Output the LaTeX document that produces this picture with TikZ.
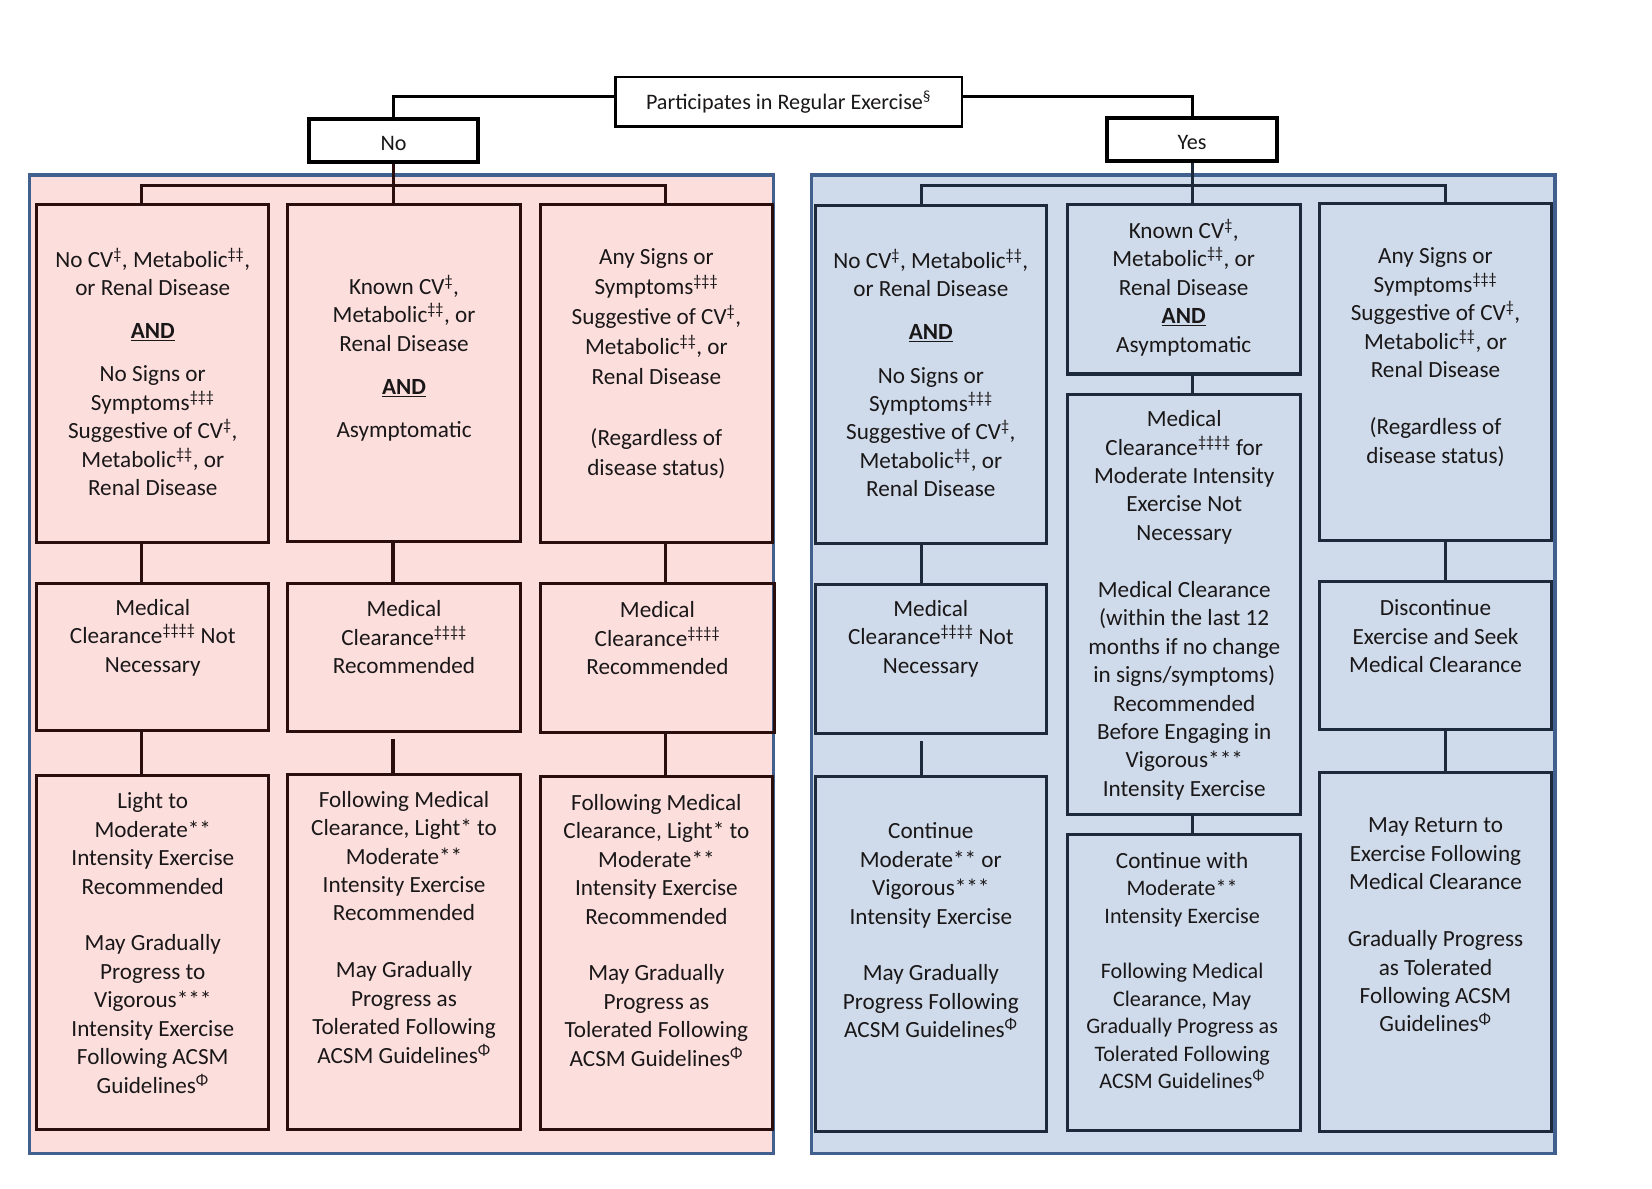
\documentclass[tikz,border=0pt]{standalone}
\usepackage{fontspec}
\setmainfont{Carlito}
\newcommand\sps[1]{\textsuperscript{#1}}
\newcommand\andu{\textbf{\underline{AND}}}
\definecolor{pinkbg}{HTML}{FCDEDD}
\definecolor{bluebg}{HTML}{CFDBEA}
\definecolor{panelbd}{HTML}{42608E}
\definecolor{boxmaroon}{HTML}{2A0E0E}
\definecolor{boxnavy}{HTML}{1C2A3B}
\definecolor{txtcol}{HTML}{1A1718}
\begin{document}
\begin{tikzpicture}[x=1pt,y=-1pt,
  lbox/.style={draw=boxmaroon, line width=2.9pt, rectangle, inner sep=0pt},
  rbox/.style={draw=boxnavy, line width=2.9pt, rectangle, inner sep=0pt},
  topbox/.style={draw=black, line width=2.4pt, rectangle, inner sep=0pt, fill=white, text=txtcol, font=\fontsize{21}{26}\selectfont},
  ynbox/.style={draw=black, line width=3.6pt, rectangle, inner sep=0pt, fill=white, text=txtcol, font=\fontsize{21}{26}\selectfont, text height=23pt, text depth=5pt},
  txt/.style={align=center, inner sep=0pt, text=txtcol, font=\fontsize{22}{27}\selectfont},
  lcon/.style={draw=boxmaroon, line width=2.9pt},
  rcon/.style={draw=boxnavy, line width=2.9pt},
  tcon/.style={draw=black, line width=2.9pt},
  panel/.style={draw=panelbd, line width=3.2pt}
]
\useasboundingbox (0,0) rectangle (1568,1128);
\fill[white] (0,0) rectangle (1568,1128);

% panels
\draw[panel, fill=pinkbg] (28,166) rectangle (734,1095);
\draw[panel, fill=bluebg] (770,166) rectangle (1476,1095);

% top nodes
\node[topbox, minimum width=329pt, minimum height=47pt] (top) at (748.5,96.5) {Participates in Regular Exercise\sps{§}};
\node[ynbox, minimum width=161pt, minimum height=41pt] (no) at (373.5,133.5) {No};
\node[ynbox, minimum width=161pt, minimum height=41pt] (yes) at (1131.5,132.5) {Yes};

% connector x positions
\coordinate (lx1) at (134,0);
\coordinate (lx2) at (373,0);
\coordinate (lx3) at (632,0);
\coordinate (rx1) at (875,0);
\coordinate (rx2) at (1132,0);
\coordinate (rx3) at (1372,0);
\coordinate (bus) at (0,176);

% left boxes
\node[lbox, minimum width=220pt, minimum height=321pt] (l11) at (145,354.5) {};
\node[lbox, minimum width=221pt, minimum height=320pt] (l12) at (383.5,354) {};
\node[lbox, minimum width=220pt, minimum height=321pt] (l13) at (623,354.5) {};
\node[lbox, minimum width=220pt, minimum height=140pt] (l21) at (145,623.5) {};
\node[lbox, minimum width=221pt, minimum height=140pt] (l22) at (383.5,624) {};
\node[lbox, minimum width=222pt, minimum height=141pt] (l23) at (624,624.5) {};
\node[lbox, minimum width=220pt, minimum height=336pt] (l31) at (145,904) {};
\node[lbox, minimum width=221pt, minimum height=337pt] (l32) at (383.5,903.5) {};
\node[lbox, minimum width=220pt, minimum height=335pt] (l33) at (623,904.5) {};

% right boxes
\node[rbox, minimum width=219pt, minimum height=321pt] (r11) at (883.5,355.5) {};
\node[rbox, minimum width=221pt, minimum height=161pt] (r12) at (1123.5,274.5) {};
\node[rbox, minimum width=221pt, minimum height=320pt] (r13) at (1362.5,353) {};
\node[rbox, minimum width=219pt, minimum height=141pt] (r21) at (883.5,625.5) {};
\node[rbox, minimum width=221pt, minimum height=399pt] (r22) at (1123.5,573.5) {};
\node[rbox, minimum width=221pt, minimum height=140pt] (r23) at (1362.5,622) {};
\node[rbox, minimum width=219pt, minimum height=337pt] (r31) at (883.5,905.5) {};
\node[rbox, minimum width=221pt, minimum height=281pt] (r32) at (1123.5,932.5) {};
\node[rbox, minimum width=221pt, minimum height=341pt] (r33) at (1362.5,903.5) {};

% top connectors
\draw[tcon] ([yshift=4.5pt]top.west) -| (no.north);
\draw[tcon] ([yshift=4.5pt]top.east) -| (yes.north);

% left connectors
\draw[lcon] (no.south) -- (no.south |- l12.north);
\draw[lcon] (l11.north -| lx1) -- (lx1 |- bus) -- (lx3 |- bus) -- (l13.north -| lx3);
\draw[lcon] (l11.south -| lx1) -- (l21.north -| lx1);
\draw[lcon] (l12.south -| lx2) -- (l22.north -| lx2);
\draw[lcon] (l13.south -| lx3) -- (l23.north -| lx3);
\draw[lcon] (l21.south -| lx1) -- (l31.north -| lx1);
\draw[lcon] ([yshift=-6pt]l22.south -| lx2) -- (l32.north -| lx2);
\draw[lcon] (l23.south -| lx3) -- (l33.north -| lx3);

% right connectors
\draw[rcon] (yes.south) -- (yes.south |- r12.north);
\draw[rcon] (r11.north -| rx1) -- (rx1 |- bus) -- (rx3 |- bus) -- (r13.north -| rx3);
\draw[rcon] (r11.south -| rx1) -- (r21.north -| rx1);
\draw[rcon] (r12.south -| rx2) -- (r22.north -| rx2);
\draw[rcon] (r13.south -| rx3) -- (r23.north -| rx3);
\draw[rcon] ([yshift=-6pt]r21.south -| rx1) -- (r31.north -| rx1);
\draw[rcon] (r22.south -| rx2) -- (r32.north -| rx2);
\draw[rcon] (r23.south -| rx3) -- (r33.north -| rx3);

% left texts
\node[txt] (tl11) at (145,353) {No CV\sps{‡}, Metabolic\sps{‡‡},\\or Renal Disease\\[14pt]\andu\\[14pt]No Signs or\\Symptoms\sps{‡‡‡}\\Suggestive of CV\sps{‡},\\Metabolic\sps{‡‡}, or\\Renal Disease};
\node[txt] (tl12) at (383.5,340) {Known CV\sps{‡},\\Metabolic\sps{‡‡}, or\\Renal Disease\\[14pt]\andu\\[14pt]Asymptomatic};
\node[txt, font=\fontsize{22}{28.5}\selectfont] (tl13) at (623,345) {Any Signs or\\Symptoms\sps{‡‡‡}\\Suggestive of CV\sps{‡},\\Metabolic\sps{‡‡}, or\\Renal Disease\\[29pt](Regardless of\\disease status)};
\node[txt] (tl21) at (145,605) {Medical\\Clearance\sps{‡‡‡‡} Not\\Necessary};
\node[txt] (tl22) at (383.5,605) {Medical\\Clearance\sps{‡‡‡‡}\\Recommended};
\node[txt] (tl23) at (624,606) {Medical\\Clearance\sps{‡‡‡‡}\\Recommended};
\node[txt] (tl31) at (145,895) {Light to\\Moderate**\\Intensity Exercise\\Recommended\\[27pt]May Gradually\\Progress to\\Vigorous***\\Intensity Exercise\\Following ACSM\\Guidelines\sps{Φ}};
\node[txt] (tl32) at (383.5,880) {Following Medical\\Clearance, Light* to\\Moderate**\\Intensity Exercise\\Recommended\\[27pt]May Gradually\\Progress as\\Tolerated Following\\ACSM Guidelines\sps{Φ}};
\node[txt] (tl33) at (623,883) {Following Medical\\Clearance, Light* to\\Moderate**\\Intensity Exercise\\Recommended\\[27pt]May Gradually\\Progress as\\Tolerated Following\\ACSM Guidelines\sps{Φ}};

% right texts
\node[txt] (tr11) at (883.5,354) {No CV\sps{‡}, Metabolic\sps{‡‡},\\or Renal Disease\\[14pt]\andu\\[14pt]No Signs or\\Symptoms\sps{‡‡‡}\\Suggestive of CV\sps{‡},\\Metabolic\sps{‡‡}, or\\Renal Disease};
\node[txt] (tr12) at (1123.5,273) {Known CV\sps{‡},\\Metabolic\sps{‡‡}, or\\Renal Disease\\\andu\\Asymptomatic};
\node[txt] (tr13) at (1362.5,339) {Any Signs or\\Symptoms\sps{‡‡‡}\\Suggestive of CV\sps{‡},\\Metabolic\sps{‡‡}, or\\Renal Disease\\[27pt](Regardless of\\disease status)};
\node[txt] (tr21) at (883.5,606) {Medical\\Clearance\sps{‡‡‡‡} Not\\Necessary};
\node[txt] (tr22) at (1124,574.5) {Medical\\Clearance\sps{‡‡‡‡} for\\Moderate Intensity\\Exercise Not\\Necessary\\[27pt]Medical Clearance\\(within the last 12\\months if no change\\in signs/symptoms)\\Recommended\\Before Engaging in\\Vigorous***\\Intensity Exercise};
\node[txt] (tr23) at (1362.5,604) {Discontinue\\Exercise and Seek\\Medical Clearance};
\node[txt] (tr31) at (883.5,883) {Continue\\Moderate** or\\Vigorous***\\Intensity Exercise\\[27pt]May Gradually\\Progress Following\\ACSM Guidelines\sps{Φ}};
\node[txt, font=\fontsize{21}{26}\selectfont] (tr32) at (1122,921) {\fontsize{22}{27}\selectfont Continue with\\Moderate**\\Intensity Exercise\\[27pt]Following Medical\\Clearance, May\\Gradually Progress as\\Tolerated Following\\ACSM Guidelines\sps{Φ}};
\node[txt] (tr33) at (1362.5,878) {May Return to\\Exercise Following\\Medical Clearance\\[27pt]Gradually Progress\\as Tolerated\\Following ACSM\\Guidelines\sps{Φ}};
\end{tikzpicture}
\end{document}
